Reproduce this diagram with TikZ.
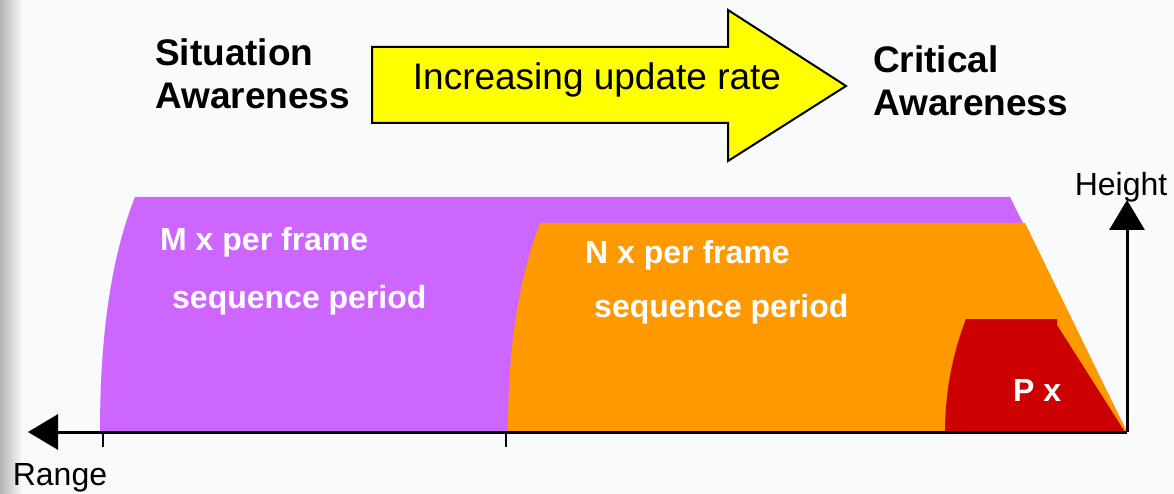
\documentclass[tikz,border=0pt]{standalone}
\usepackage{fontspec}
\setmainfont{Liberation Sans}
\usetikzlibrary{arrows.meta}
\definecolor{bgc}{HTML}{F8FAFC}
\definecolor{purp}{HTML}{CC66FF}
\definecolor{orng}{HTML}{FF9900}
\definecolor{redc}{HTML}{CC0000}
\definecolor{yell}{HTML}{FFFF00}
\tikzset{
  headtxt/.style={font=\fontsize{37}{43}\selectfont\bfseries, align=left, anchor=west, inner sep=0pt},
  bandtxt/.style={font=\fontsize{32}{38}\selectfont\bfseries, text=white, anchor=west, inner sep=0pt},
  axtxt/.style={font=\fontsize{32}{38}\selectfont, inner sep=0pt},
  axisline/.style={line width=3pt, -{Triangle[length=30pt,width=35pt]}},
  tickline/.style={line width=2pt}
}
\begin{document}
\begin{tikzpicture}[x=1pt,y=-1pt]
\useasboundingbox (0,0) rectangle (1174,494);
\fill[bgc] (0,0) rectangle (1174,494);
\shade[left color=black!30, right color=bgc] (0,0) rectangle (22,494);
% bands
\fill[purp] (135,197) -- (1010,197) -- (1127,432) -- (100,432)
  .. controls (100,340) and (110,260) .. (135,197) -- cycle;
\fill[orng] (540,223) -- (1025,223) -- (1127,432) -- (508,432)
  .. controls (508,360) and (515,290) .. (540,223) -- cycle;
\fill[redc] (966,319) -- (1057,319) -- (1057,325) -- (1125,432) -- (945,432)
  .. controls (945,400) and (950,360) .. (966,319) -- cycle;
% yellow arrow
\draw[fill=yell, line width=2pt, line join=miter]
  (372,47) -- (728,47) -- (728,10) -- (846,86) -- (728,161) -- (728,123) -- (372,123) -- cycle;
\node[font=\fontsize{37}{43}\selectfont, inner sep=0pt] (rate) at (597,80) {Increasing update rate};
% headings
\node[headtxt] (sit) at (155,74) {Situation\\Awareness};
\node[headtxt] (crit) at (873,81) {Critical\\Awareness};
% band labels
\node[bandtxt] (m1) at (160,242) {M x per frame};
\node[bandtxt] (m2) at (172,300) {sequence period};
\node[bandtxt] (n1) at (585,255) {N x per frame};
\node[bandtxt] (n2) at (594,309) {sequence period};
\node[bandtxt] (px) at (1013,390) {P x};
% axes
\coordinate (origin) at (1127,432);
\coordinate (rangeend) at (28,432);
\coordinate (heightend) at (1127,200);
\coordinate (t1) at (103,432);
\coordinate (t1b) at (103,447);
\coordinate (t2) at (506,432);
\coordinate (t2b) at (506,447);
\draw[tickline] (t1) -- (t1b);
\draw[tickline] (t2) -- (t2b);
\draw[axisline] (origin) -- (rangeend);
\draw[axisline] (origin) -- (heightend);
\node[axtxt] (range) at (60,478) {Range};
\node[axtxt] (height) at (1121,187) {Height};
\end{tikzpicture}
\end{document}
